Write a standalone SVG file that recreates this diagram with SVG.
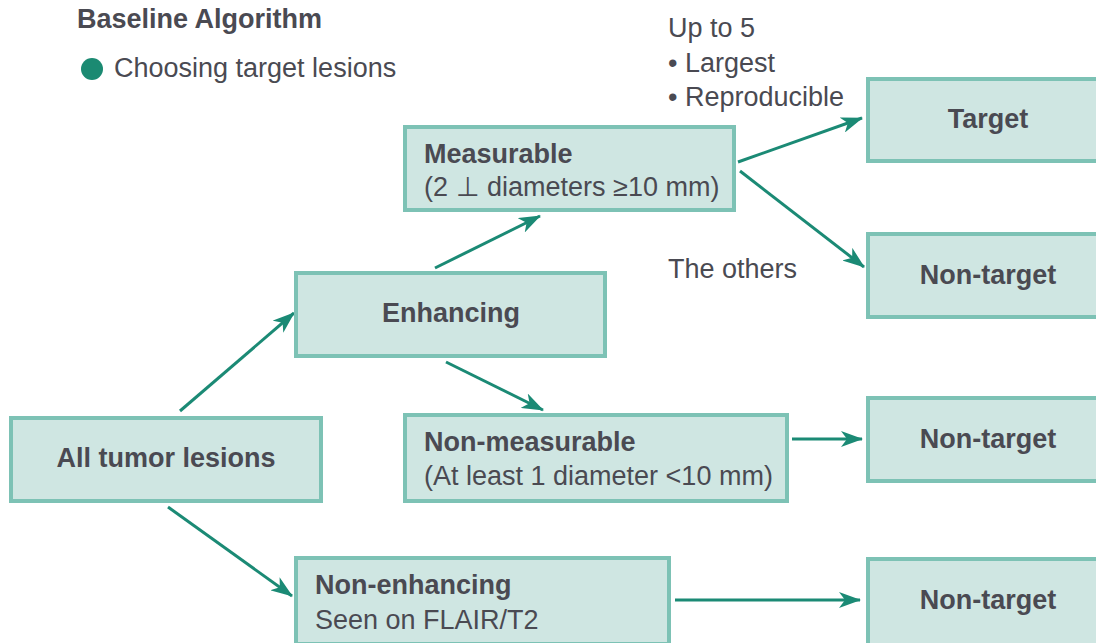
<svg xmlns="http://www.w3.org/2000/svg" width="1096" height="643" viewBox="0 0 1096 643">
<style>
.box{fill:#cfe6e2;stroke:#7dc2b5;stroke-width:4}
.t{font-family:"Liberation Sans",Arial,sans-serif;fill:#4a4a52}
.b{font-weight:bold;font-size:27px}
.r{font-size:27px}
.c{text-anchor:middle}
.ln{stroke:#1b8a75;stroke-width:3;fill:none;marker-end:url(#ah)}
</style>
<defs>
<marker id="ah" viewBox="0 0 22 16" refX="21" refY="8" markerWidth="22" markerHeight="16" markerUnits="userSpaceOnUse" orient="auto">
<path d="M0,0 L22,8 L0,16 L6,8 Z" fill="#1b8a75"/>
</marker>
</defs>
<rect width="1096" height="643" fill="#ffffff"/>
<g id="header">
<text class="t" x="77" y="28" font-size="27" font-weight="bold">Baseline Algorithm</text>
<circle cx="92" cy="69" r="11" fill="#1b8a72"/>
<text class="t" x="114" y="77" font-size="27">Choosing target lesions</text>
</g>
<g id="notes">
<text class="t r" x="668" y="37">Up to 5</text>
<text class="t r" x="668" y="72">• Largest</text>
<text class="t r" x="668" y="106">• Reproducible</text>
<text class="t r" x="668" y="278">The others</text>
</g>
<g id="connectors">
<line class="ln" x1="180" y1="411" x2="294" y2="313"/>
<line class="ln" x1="168" y1="507" x2="292" y2="596"/>
<line class="ln" x1="435" y1="268" x2="540" y2="216"/>
<line class="ln" x1="446" y1="362" x2="543" y2="410"/>
<line class="ln" x1="738" y1="162" x2="862" y2="118"/>
<line class="ln" x1="740" y1="171" x2="864" y2="267"/>
<line class="ln" x1="792" y1="439" x2="862" y2="439"/>
<line class="ln" x1="675" y1="600" x2="860" y2="600"/>
</g>
<g id="n-all">
<rect class="box" x="11" y="418" width="310" height="83"/>
<text class="t b c" x="166" y="467">All tumor lesions</text>
</g>
<g id="n-enh">
<rect class="box" x="296" y="273" width="309" height="83"/>
<text class="t b c" x="451" y="322">Enhancing</text>
</g>
<g id="n-meas">
<rect class="box" x="405" y="127" width="329" height="83"/>
<text class="t b" x="424" y="163">Measurable</text>
<text class="t r" x="424" y="196">(2 ⊥ diameters ≥10 mm)</text>
</g>
<g id="n-nonmeas">
<rect class="box" x="405" y="415" width="382" height="86"/>
<text class="t b" x="424" y="451">Non-measurable</text>
<text class="t r" x="424" y="485">(At least 1 diameter &lt;10 mm)</text>
</g>
<g id="n-nonenh">
<rect class="box" x="296" y="558" width="373" height="86"/>
<text class="t b" x="315" y="594">Non-enhancing</text>
<text class="t r" x="315" y="629">Seen on FLAIR/T2</text>
</g>
<g id="n-target">
<rect class="box" x="868" y="79" width="240" height="82"/>
<text class="t b c" x="988" y="128">Target</text>
</g>
<g id="n-nt1">
<rect class="box" x="868" y="234" width="240" height="83"/>
<text class="t b c" x="988" y="284">Non-target</text>
</g>
<g id="n-nt2">
<rect class="box" x="868" y="398" width="240" height="83"/>
<text class="t b c" x="988" y="448">Non-target</text>
</g>
<g id="n-nt3">
<rect class="box" x="868" y="559" width="240" height="86"/>
<text class="t b c" x="988" y="609">Non-target</text>
</g>
</svg>
